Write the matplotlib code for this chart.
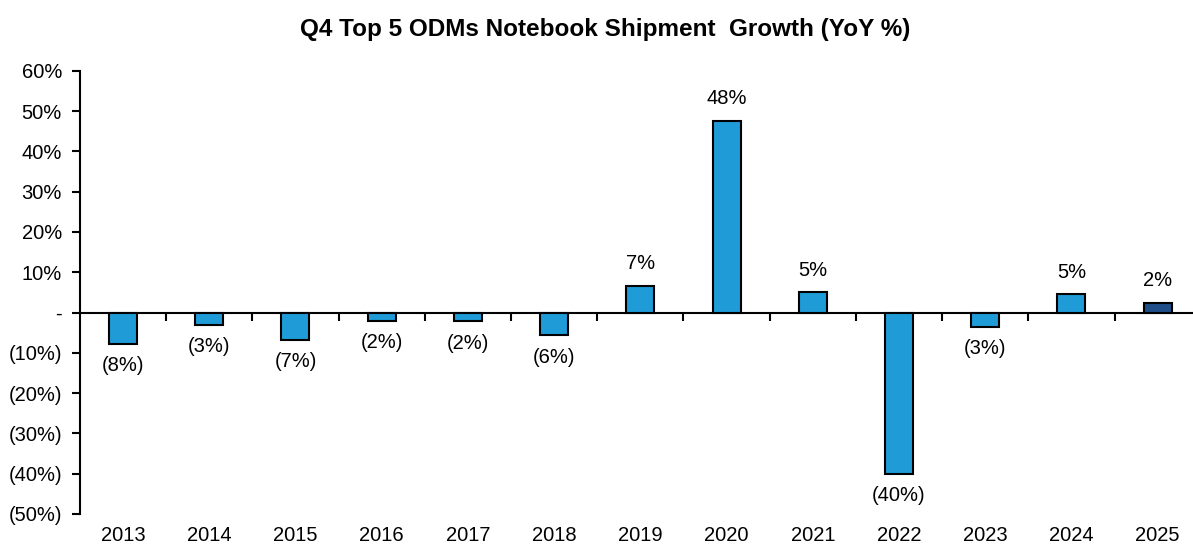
import matplotlib
matplotlib.use("Agg")
import matplotlib.pyplot as plt
from matplotlib.ticker import FixedLocator

years = ["2013", "2014", "2015", "2016", "2017", "2018", "2019", "2020",
         "2021", "2022", "2023", "2024", "2025"]
growth = [-7.7, -3.0, -6.7, -2.0, -2.2, -5.7, 6.7, 47.6, 5.0, -40.0, -3.5, 4.5, 2.4]
value_labels = ["(8%)", "(3%)", "(7%)", "(2%)", "(2%)", "(6%)", "7%", "48%",
                "5%", "(40%)", "(3%)", "5%", "2%"]
yticks = [-50, -40, -30, -20, -10, 0, 10, 20, 30, 40, 50, 60]
ytick_labels = ["(50%)", "(40%)", "(30%)", "(20%)", "(10%)", "-", "10%", "20%",
                "30%", "40%", "50%", "60%"]

plt.rcParams['font.family'] = ['Liberation Sans', 'DejaVu Sans']

light = "#1F9BD7"
dark = "#1F4E89"
colors = [light] * (len(years) - 1) + [dark]

fig = plt.figure(figsize=(11.93, 5.45), dpi=100)
ax = fig.add_axes([0.067, 0.057, 0.933, 0.813])

x = list(range(len(years)))
ax.bar(x, growth, width=0.325, color=colors, edgecolor="black", linewidth=1.5, zorder=3)

for xi, v, lab in zip(x, growth, value_labels):
    if v >= 0:
        ax.annotate(lab, (xi, v), xytext=(0, 9), textcoords="offset points",
                    ha="center", va="bottom", fontsize=14.5)
    else:
        ax.annotate(lab, (xi, v), xytext=(0, -9), textcoords="offset points",
                    ha="center", va="top", fontsize=14.5)

ax.set_ylim(-50, 60)
ax.set_xlim(-0.5, 12.41)
ax.set_yticks(yticks)
ax.set_yticklabels(ytick_labels, fontsize=14.5)
ax.tick_params(axis='y', direction='out', length=6, width=1.5, pad=7)

ax.spines['top'].set_visible(False)
ax.spines['right'].set_visible(False)
ax.spines['left'].set_linewidth(1.5)
ax.spines['bottom'].set_position(('data', 0))
ax.spines['bottom'].set_linewidth(1.5)

ax.set_xticks(x)
ax.set_xticklabels(years, fontsize=14.5)
ax.xaxis.set_minor_locator(FixedLocator([i + 0.5 for i in range(len(years) - 1)]))
ax.tick_params(axis='x', which='major', length=0, pad=154)
ax.tick_params(axis='x', which='minor', direction='out', length=6, width=1.5)

fig.text(0.507, 0.945, "Q4 Top 5 ODMs Notebook Shipment  Growth (YoY %)",
         ha="center", va="center", fontsize=17.5, fontweight="bold")

fig.savefig("out.png", dpi=100)
